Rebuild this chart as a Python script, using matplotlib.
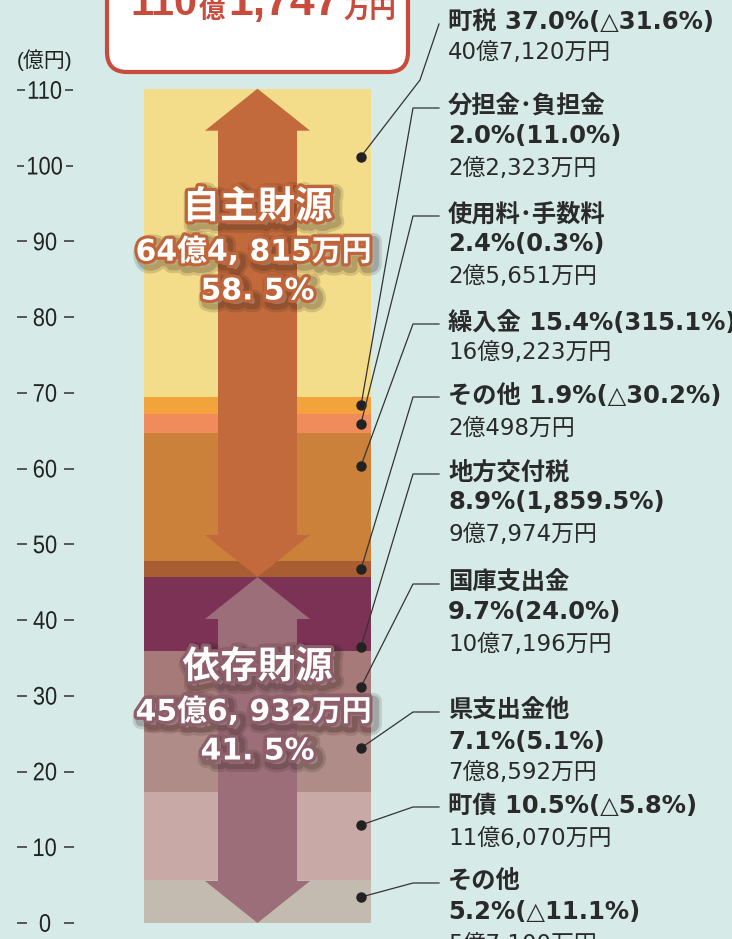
import matplotlib
matplotlib.use("Agg")
import matplotlib.pyplot as plt
import matplotlib.patheffects as pe
from matplotlib.patches import Polygon, FancyBboxPatch, PathPatch
from matplotlib.textpath import TextPath
from matplotlib.font_manager import FontProperties
from matplotlib.transforms import Affine2D

# ---------------- data (top of bar to bottom) ----------------
names = ['町税', '分担金･負担金', '使用料･手数料', '繰入金', 'その他',
         '地方交付税', '国庫支出金', '県支出金他', '町債', 'その他']
shares = [37.0, 2.0, 2.4, 15.4, 1.9, 8.9, 9.7, 7.1, 10.5, 5.2]        # %
changes = [-31.6, 11.0, 0.3, 315.1, -30.2, 1859.5, 24.0, 5.1, -5.8, -11.1]  # % vs prev.
amounts_man = [407120, 22323, 25651, 169223, 20498,
               97974, 107196, 78592, 116070, 57100]                    # 万円
group = ['自主', '自主', '自主', '自主', '自主', '依存', '依存', '依存', '依存', '依存']
yticks = [0, 10, 20, 30, 40, 50, 60, 70, 80, 90, 100, 110]

# ---------------- styles / layout ----------------
colors = ['#f3dc8a', '#f3a33b', '#f08c5b', '#cc813a', '#a85d33',
          '#7b3254', '#a67a78', '#b08c88', '#c9a9a5', '#c3bbb0']
dot_frac = [0.78, 0.5, 0.5, 0.746, 0.5, 0.058, 0.56, 0.737, 0.623, 0.6]
label_rows = [[22, 53], [107, 136, 168], [215, 244, 277], [323, 353], [396, 428],
              [473, 502, 534], [583, 612, 645], [711, 742, 773], [806, 838],
              [882, 912, 945]]
BG = '#d6ebe7'
W, H = 732, 939
PX0, PX110 = 923, 90
ppu = (PX0 - PX110) / 110.0


def py(p):
    return (PX0 - p) / ppu


LAT_JP = ['DejaVu Sans', 'Noto Sans CJK JP']
JP = ['Noto Sans CJK JP', 'DejaVu Sans']
plt.rcParams['font.family'] = LAT_JP

fig = plt.figure(figsize=(W / 100, H / 100), dpi=100, facecolor=BG)
ax = fig.add_axes([0, 0, 1, 1])
ax.set_facecolor(BG)
ax.set_xlim(0, W)
ax.set_ylim(-(H - PX0) / ppu, 110 + PX110 / ppu)
ax.axis('off')

# pixel overlay axes (y down) for layout items
ax2 = fig.add_axes([0, 0, 1, 1], facecolor='none')
ax2.set_xlim(0, W)
ax2.set_ylim(H, 0)
ax2.axis('off')

# ---------------- stacked bar ----------------
vals = [a / 10000.0 for a in amounts_man]
bottoms = []
acc = 0.0
for v in reversed(vals):
    bottoms.append(acc)
    acc += v
bottoms = bottoms[::-1]
total = acc
cx, bw = 257.5, 227
for v, b, c in zip(vals, bottoms, colors):
    ax.bar(cx, v, bottom=b, width=bw, color=c, edgecolor='none', zorder=1)

dep_total = sum(v for v, g in zip(vals, group) if g == '依存')


def arrow(top, bot, color):
    hl = 42 / ppu
    sw, hw = 39.5, 52.5
    pts = [(cx, top), (cx + hw, top - hl), (cx + sw, top - hl), (cx + sw, bot + hl),
           (cx + hw, bot + hl), (cx, bot), (cx - hw, bot + hl), (cx - sw, bot + hl),
           (cx - sw, top - hl), (cx - hw, top - hl)]
    ax.add_patch(Polygon(pts, closed=True, facecolor=color, edgecolor='none', zorder=2))


arrow(total, dep_total, '#c26a3b')
arrow(dep_total, 0, '#9c6e7a')

# ---------------- bar-centre labels ----------------


def oku_man(a, sep=''):
    o, r = divmod(a, 10000)
    if r >= 1000:
        return f"{o}億{r // 1000},{sep}{r % 1000:03d}万円"
    return f"{o}億{r}万円"


tot_man = sum(amounts_man)
ind_man = sum(a for a, g in zip(amounts_man, group) if g == '自主')
dep_man = tot_man - ind_man
blocks = [('自主財源', ind_man, [208, 252, 291], '#c0643a'),
          ('依存財源', dep_man, [668, 712, 751], '#8e5e6a')]
for title, am, rows, oc in blocks:
    effects = [pe.Stroke(linewidth=12, foreground='#2a1a14', alpha=0.15, offset=(3, -3)),
               pe.Stroke(linewidth=8, foreground='#2a1a14', alpha=0.2, offset=(3, -3)),
               pe.Stroke(linewidth=4.5, foreground=oc), pe.Normal()]
    pct = f"{am / tot_man * 100:.1f}%".replace('.', '. ')
    lines = [(title, 27), (oku_man(am, ' '), 21.5), (pct, 21.5)]
    for (t, fs), r in zip(lines, rows):
        ax2.text(cx - (4 if t == lines[1][0] else 0), r, t, ha='center', va='center',
                 fontsize=fs, color='white', fontweight='bold', family=LAT_JP,
                 path_effects=effects, zorder=5)

# ---------------- y axis ----------------
ax2.text(45, 60, '(億円)', ha='center', va='center', fontsize=15, color='#222',
         family=['Liberation Sans', 'Noto Sans CJK JP'])
tick_fp = FontProperties(family='Liberation Sans')


def condensed(x, y, s, height, sx, color):
    tp = TextPath((0, 0), s, size=100, prop=tick_fp)
    ext = tp.get_extents()
    k = height / ext.height
    tr = (Affine2D().translate(-(ext.x0 + ext.x1) / 2, -(ext.y0 + ext.y1) / 2)
          .scale(k * sx, -k).translate(x, y))
    ax2.add_patch(PathPatch(tr.transform_path(tp), facecolor=color, edgecolor='none',
                            lw=0, zorder=3))
    return ext.width * k * sx


for t in yticks:
    yp = H - ax.transData.transform((0, t))[1]
    w = condensed(45, yp, f"{t}", 18, 0.86, '#222')
    left_end = min(27, 45 - w / 2 - 4)
    right_start = max(64, 45 + w / 2 + 4)
    ax2.plot([17, left_end], [yp, yp], color='#555', lw=1.4, solid_capstyle='butt')
    ax2.plot([right_start, right_start + (left_end - 17)], [yp, yp], color='#555',
             lw=1.4, solid_capstyle='butt')

# ---------------- right labels + leaders ----------------
TXT = '#2a2a2a'
for i, name in enumerate(names):
    ch = changes[i]
    chs = ('△' if ch < 0 else '') + f"{abs(ch):,.1f}"
    pct = f"{shares[i]:.1f}%({chs}%)"
    rows = label_rows[i]
    if len(rows) == 3:
        bold_lines = [name, pct]
    else:
        bold_lines = [f"{name} {pct}"]
    for t, r in zip(bold_lines, rows):
        ax2.text(448, r, t, ha='left', va='center', fontsize=17.5, fontweight='bold',
                 color=TXT, family=LAT_JP, zorder=6)
    ax2.text(448, rows[-1], oku_man(amounts_man[i]), ha='left', va='center',
             fontsize=16.5, color=TXT, family=LAT_JP, zorder=6)

    dy = bottoms[i] + vals[i] * dot_frac[i]
    if i == 0:
        ex, ey, kx, ky = 439, 24, 420, 80
    else:
        ex, ey, kx, ky = 439, rows[0] + 1, 413, rows[0] + 1
    ax.plot([361, kx, ex], [dy, py(ky), py(ey)], color='#333', lw=0.9, zorder=4)
    ax.plot([361], [dy], 'o', color='#222', ms=6.5, zorder=4)

# ---------------- top total box ----------------
ax2.add_patch(FancyBboxPatch((107, -40), 301, 112, boxstyle='round,pad=0,rounding_size=20',
                             facecolor='white', edgecolor='#c84b3c', lw=3))
RED = '#c84b3c'
o, r = divmod(tot_man, 10000)
ax2.text(130, 15, f"{o}", ha='left', va='baseline', fontsize=30, fontweight='bold',
         color=RED, family=['Liberation Sans'])
ax2.text(199, 18, '億', ha='left', va='baseline', fontsize=19, fontweight='bold',
         color=RED, family=JP)
ax2.text(228, 15, f"{r:,}", ha='left', va='baseline', fontsize=32, fontweight='bold',
         color=RED, family=['Liberation Sans'])
ax2.text(343, 18, '万円', ha='left', va='baseline', fontsize=19, fontweight='bold',
         color=RED, family=JP)

fig.savefig('out.png', dpi=100, facecolor=BG)
